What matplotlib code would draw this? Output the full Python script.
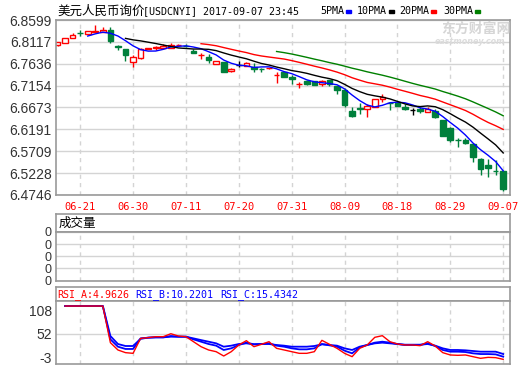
import numpy as np
import pandas as pd
import matplotlib
matplotlib.use('Agg')
import matplotlib.pyplot as plt
from matplotlib.patches import Rectangle

# daily USD/CNY quotes, 2017-06-16 .. 2017-09-07
dates = ['06-16', '06-19', '06-20', '06-21', '06-22', '06-23', '06-26', '06-27', '06-28', '06-29',
         '06-30', '07-03', '07-04', '07-05', '07-06', '07-07', '07-10', '07-11', '07-12', '07-13',
         '07-14', '07-17', '07-18', '07-19', '07-20', '07-21', '07-24', '07-25', '07-26', '07-27',
         '07-28', '07-31', '08-01', '08-02', '08-03', '08-04', '08-07', '08-08', '08-09', '08-10',
         '08-11', '08-14', '08-15', '08-16', '08-17', '08-18', '08-21', '08-22', '08-23', '08-24',
         '08-25', '08-28', '08-29', '08-30', '08-31', '09-01', '09-04', '09-05', '09-06', '09-07']

opens = [6.8040, 6.8090, 6.8203, 6.8315, 6.8300, 6.8345, 6.8335, 6.8380, 6.8020, 6.7960,
         6.7680, 6.7760, 6.7965, 6.7980, 6.7980, 6.7990, 6.8040, 6.8035, 6.7920, 6.7825,
         6.7790, 6.7640, 6.7670, 6.7470, 6.7610, 6.7590, 6.7570, 6.7525, 6.7535, 6.7385,
         6.7450, 6.7350, 6.7185, 6.7260, 6.7256, 6.7180, 6.7270, 6.7146, 6.7060, 6.6595,
         6.6655, 6.6630, 6.6690, 6.6866, 6.6780, 6.6780, 6.6677, 6.6617, 6.6633, 6.6580,
         6.6600, 6.6397, 6.6230, 6.5965, 6.5964, 6.5862, 6.5546, 6.5413, 6.5276, 6.5270]
highs = [6.8125, 6.8200, 6.8320, 6.8370, 6.8360, 6.8490, 6.8440, 6.8440, 6.8040, 6.7970,
         6.7820, 6.7980, 6.7980, 6.8020, 6.8060, 6.8100, 6.8060, 6.8070, 6.7960, 6.7866,
         6.7844, 6.7700, 6.7680, 6.7540, 6.7700, 6.7670, 6.7646, 6.7550, 6.7550, 6.7460,
         6.7460, 6.7385, 6.7240, 6.7285, 6.7260, 6.7285, 6.7285, 6.7150, 6.7095, 6.6677,
         6.6765, 6.6760, 6.6860, 6.6962, 6.6800, 6.6790, 6.6760, 6.6655, 6.6690, 6.6677,
         6.6640, 6.6400, 6.6240, 6.6008, 6.5995, 6.5870, 6.5550, 6.5540, 6.5517, 6.5280]
lows = [6.8030, 6.8085, 6.8195, 6.8250, 6.8295, 6.8340, 6.8330, 6.8086, 6.7930, 6.7700,
        6.7560, 6.7750, 6.7960, 6.7940, 6.7970, 6.7980, 6.8030, 6.7998, 6.7865, 6.7750,
        6.7660, 6.7630, 6.7450, 6.7460, 6.7560, 6.7580, 6.7460, 6.7450, 6.7520, 6.7220,
        6.7340, 6.7200, 6.7095, 6.7160, 6.7160, 6.7140, 6.7140, 6.6970, 6.6690, 6.6470,
        6.6540, 6.6470, 6.6680, 6.6800, 6.6625, 6.6700, 6.6617, 6.6510, 6.6545, 6.6570,
        6.6435, 6.6045, 6.5910, 6.5796, 6.5870, 6.5480, 6.5180, 6.5150, 6.5186, 6.4840]
closes = [6.8115, 6.8196, 6.8262, 6.8305, 6.8350, 6.8355, 6.8386, 6.8140, 6.8000, 6.7835,
          6.7790, 6.7970, 6.7975, 6.8010, 6.8020, 6.8050, 6.8045, 6.8025, 6.7880, 6.7835,
          6.7720, 6.7690, 6.7460, 6.7530, 6.7610, 6.7660, 6.7510, 6.7520, 6.7540, 6.7390,
          6.7350, 6.7290, 6.7190, 6.7190, 6.7170, 6.7256, 6.7190, 6.7060, 6.6734, 6.6490,
          6.6650, 6.6700, 6.6853, 6.6910, 6.6775, 6.6710, 6.6633, 6.6617, 6.6590, 6.6638,
          6.6470, 6.6050, 6.5960, 6.5960, 6.5890, 6.5590, 6.5320, 6.5340, 6.5272, 6.4872]

nan = np.nan
rsi_a = [nan, 117.4, 117.4, 117.4, 117.4, 117.4, 117.4, 30.9, 13.6, 7.3,
         5.7, 41.0, 42.7, 45.0, 45.0, 52.0, 46.6, 45.0, 33.2, 21.4,
         13.6, 9.6, -0.6, 9.6, 25.4, 35.6, 21.4, 27.0, 33.2, 17.5,
         13.6, 9.6, 5.7, 5.7, 9.6, 36.4, 27.0, 17.5, 5.7, -2.2,
         17.5, 25.4, 43.5, 47.4, 33.2, 27.7, 25.4, 25.4, 23.8, 33.2,
         23.0, 7.3, 1.8, 1.0, 1.8, -2.2, -6.1, -3.8, -4.5, -8.5]
rsi_b = [nan, 117.4, 117.4, 117.4, 117.4, 117.4, 117.4, 38.7, 21.4, 16.0,
         16.0, 41.0, 42.7, 43.5, 43.5, 46.6, 45.0, 45.0, 38.7, 33.2,
         27.7, 23.8, 13.6, 17.5, 25.4, 30.9, 27.0, 27.7, 29.3, 23.8,
         21.4, 17.5, 15.1, 15.1, 17.5, 27.7, 24.6, 21.4, 12.0, 5.7,
         19.8, 25.4, 30.9, 33.2, 31.0, 27.7, 25.4, 25.4, 25.4, 29.3,
         23.0, 13.6, 9.6, 9.6, 8.8, 5.7, 4.0, 4.0, 3.3, -2.2]
rsi_c = [nan, 117.4, 117.4, 117.4, 117.4, 117.4, 117.4, 46.6, 27.7, 23.0,
         23.0, 40.0, 42.7, 43.5, 43.5, 45.0, 45.0, 45.0, 41.0, 37.0,
         33.2, 29.3, 21.4, 23.8, 27.7, 29.3, 27.0, 27.7, 27.7, 25.4,
         23.8, 21.4, 21.4, 21.4, 23.0, 27.0, 25.4, 23.8, 17.5, 13.6,
         21.4, 25.4, 29.3, 30.9, 29.3, 27.7, 26.1, 26.1, 26.1, 27.7,
         23.8, 17.5, 13.6, 13.6, 12.8, 11.2, 9.6, 9.6, 9.6, 4.1]

price_labels = ['6.4746', '6.5228', '6.5709', '6.6191', '6.6673',
                '6.7154', '6.7636', '6.8117', '6.8599']
date_ticks = [3, 10, 17, 24, 31, 38, 45, 52, 59]

W, H = 520, 365
RED = '#ff0000'
GREEN = '#00803c'
GRID = '#d4d4d4'
FRAME = '#999999'
TXT = '#333333'
LBL_FONT = ['Liberation Sans Narrow', 'Liberation Sans', 'DejaVu Sans']
CJK = ['Noto Sans CJK SC', 'DejaVu Sans']


def box(l, t, r, b):
    return [l / W, 1 - b / H, (r - l) / W, (b - t) / H]


def frame(a):
    for s in a.spines.values():
        s.set_color(FRAME)
        s.set_linewidth(1.2)


fig = plt.figure(figsize=(5.2, 3.65), dpi=100)
fig.patch.set_facecolor('white')

x = np.arange(len(dates))
xlim = (-0.2, 59.9)

# ---- price panel ----
ax = fig.add_axes(box(56, 20, 510, 195))
frame(ax)
ax.set_xlim(*xlim)
price_ticks = [float(v) for v in price_labels]
ax.set_ylim(price_ticks[0], price_ticks[-1])
ax.set_yticks(price_ticks)
ax.set_yticklabels(price_labels, fontsize=10, color=TXT, family=LBL_FONT)
ax.set_xticks(date_ticks)
ax.set_xticklabels([dates[i] for i in date_ticks], color=RED, fontsize=7.5,
                   family='DejaVu Sans Mono')
ax.tick_params(length=0, pad=3)
ax.tick_params(axis='x', pad=5)
ax.grid(axis='y', color=GRID, lw=1, ls='-')
for i in date_ticks:
    ax.axvline(i, color=GRID, lw=1, ls=(0, (3, 3)), zorder=0)

w = 0.75
for i in range(len(dates)):
    o, h, l, c = opens[i], highs[i], lows[i], closes[i]
    if c > o:
        col, face = RED, 'white'
    elif c < o:
        col, face = GREEN, GREEN
    else:
        col, face = 'black', 'black'
    ax.vlines(i, l, h, color=col, lw=1, zorder=2)
    ax.bar(i, abs(c - o), w, bottom=min(o, c), facecolor=face, edgecolor=col,
           lw=1, zorder=2.5)

s = pd.Series(closes)
for n, col in [(5, '#0000ff'), (10, 'black'), (20, '#ff0000'), (30, '#008000')]:
    ax.plot(x, s.rolling(n).mean(), color=col, lw=1, zorder=3)

# watermark
fig.text(476 / W, 1 - 29 / H, '东方财富网', family=CJK, fontsize=10, weight='bold',
         color='#d6d6d6', ha='center', va='center')
fig.text(470 / W, 1 - 41.5 / H, 'eastmoney.com', fontsize=5.8, weight='bold', style='italic',
         color='#dcdcdc', ha='center', va='center')

# ---- volume panel ----
vh = fig.add_axes(box(56, 214, 510, 232))
frame(vh)
vh.set_xticks([])
vh.set_yticks([])
vh.text(0.005, 0.5, '成交量', transform=vh.transAxes, family=CJK, fontsize=9,
        va='center', ha='left', color='black')

vax = fig.add_axes(box(56, 232, 510, 280.5))
frame(vax)
vax.set_xlim(*xlim)
vax.set_ylim(0, 4)
vax.set_yticks([0, 1, 2, 3, 4])
vax.set_yticklabels(['0'] * 5, fontsize=9, color=TXT, family=LBL_FONT)
vax.set_xticks([])
vax.tick_params(length=0, pad=3)
vax.grid(axis='y', color=GRID, lw=1)
for i in date_ticks:
    vax.axvline(i, color=GRID, lw=1, ls=(0, (3, 3)), zorder=0)

# ---- RSI panel ----
rh = fig.add_axes(box(56, 287, 510, 301))
frame(rh)
rh.set_xticks([])
rh.set_yticks([])
fig.text(57 / W, 1 - 294.5 / H, 'RSI_A:4.9626', color=RED, fontsize=7.2,
         family='DejaVu Sans Mono', va='center')
fig.text(135 / W, 1 - 294.5 / H, 'RSI_B:10.2201', color='#0000ff', fontsize=7.2,
         family='DejaVu Sans Mono', va='center')
fig.text(220 / W, 1 - 294.5 / H, 'RSI_C:15.4342', color='#0000ff', fontsize=7.2,
         family='DejaVu Sans Mono', va='center')

rax = fig.add_axes(box(56, 301, 510, 364))
frame(rax)
rax.set_xlim(*xlim)
rax.set_ylim(-19.5, 129.3)
rax.set_yticks([108, 52, -3])
rax.set_yticklabels(['108', '52', '-3'], fontsize=10, color=TXT, family=LBL_FONT)
rax.set_xticks([])
rax.tick_params(length=0, pad=3)
rax.axhline(52, color=GRID, lw=1, zorder=0)
for i in date_ticks:
    rax.axvline(i, color=GRID, lw=1, ls=(0, (3, 3)), zorder=0)
rax.plot(x, rsi_c, color='#0000ff', lw=1.3)
rax.plot(x, rsi_b, color='#0000ff', lw=1.3)
rax.plot(x, rsi_a, color='#ff0000', lw=1.0)

# ---- title & MA legend ----
fig.text(57 / W, 1 - 11 / H, '美元人民币询价', family=CJK, fontsize=9, va='center')
fig.text(143 / W, 1 - 11 / H, '[USDCNYI] 2017-09-07 23:45', family='DejaVu Sans Mono',
         fontsize=7.2, va='center')
legend = [('5PMA', 320, '#0000ff'), ('10PMA', 357, 'black'),
          ('20PMA', 399, '#ff0000'), ('30PMA', 443, '#008000')]
for name, lx, col in legend:
    fig.text(lx / W, 1 - 11 / H, name, family='DejaVu Sans Mono', fontsize=7.2,
             va='center')
    dx = lx + 6.02 * len(name) + 2
    fig.add_artist(Rectangle((dx / W, 1 - 12.5 / H), 5 / W, 3 / H, color=col,
                             transform=fig.transFigure))

fig.savefig('out.png', dpi=100)
